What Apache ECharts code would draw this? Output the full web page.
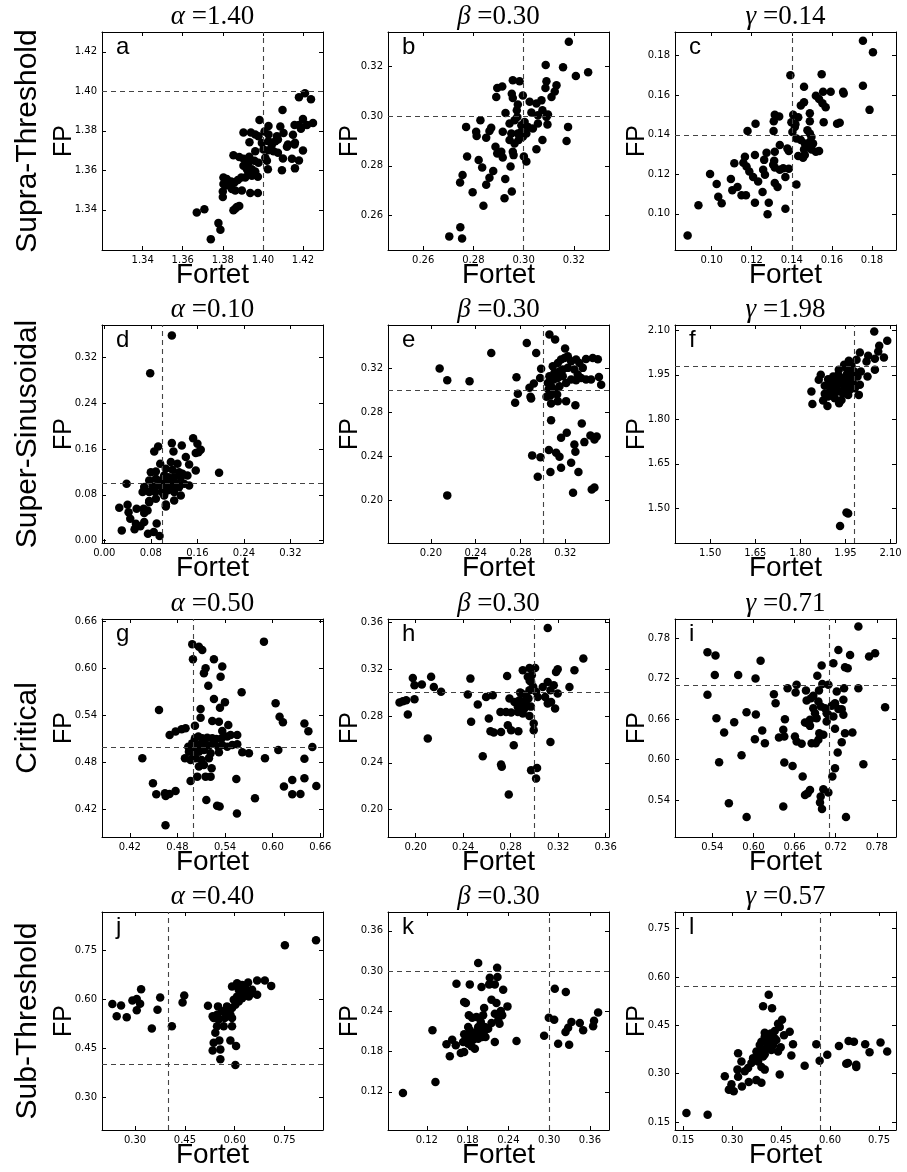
<!DOCTYPE html>
<html>
<head>
<meta charset="utf-8">
<script src="https://cdn.jsdelivr.net/npm/echarts@6/dist/echarts.min.js"></script>
<style>
html, body { margin: 0; padding: 0; background: #fff; }
#chart { width: 907px; height: 1172px; }
</style>
</head>
<body>
<div id="chart"></div>
<script>
// [Fortet, FP] pairs, one list per panel
const panelA = [[1.4098,1.3905],[1.4158,1.3830],[1.3983,1.3855],[1.4028,1.3825],[1.4087,1.3822],[1.3903,1.3792],[1.3940,1.3792],[1.3962,1.3781],[1.3978,1.3772],[1.4008,1.3797],[1.4028,1.3781],[1.4070,1.3772],[1.4103,1.3789],[1.3933,1.3742],[1.3995,1.3739],[1.4028,1.3747],[1.4045,1.3731],[1.4062,1.3747],[1.4075,1.3756],[1.4125,1.3731],[1.4158,1.3731],[1.3962,1.3697],[1.4003,1.3706],[1.4028,1.3702],[1.4053,1.3697],[1.4075,1.3689],[1.4145,1.3659],[1.3853,1.3676],[1.3882,1.3667],[1.3903,1.3659],[1.3932,1.3669],[1.3928,1.3639],[1.3958,1.3648],[1.3978,1.3639],[1.4012,1.3664],[1.4020,1.3648],[1.4025,1.3606],[1.4095,1.3601],[1.3903,1.3623],[1.3920,1.3606],[1.3945,1.3606],[1.3962,1.3594],[1.3975,1.3568],[1.3945,1.3573],[1.3928,1.3581],[1.3912,1.3564],[1.3892,1.3564],[1.3875,1.3551],[1.3858,1.3539],[1.3842,1.3543],[1.3820,1.3556],[1.3803,1.3564],[1.3803,1.3531],[1.3828,1.3526],[1.3845,1.3506],[1.3862,1.3498],[1.3895,1.3498],[1.3937,1.3486],[1.3975,1.3485],[1.3800,1.3493],[1.3800,1.3465],[1.3815,1.3523],[1.3853,1.3398],[1.3870,1.3415],[1.3882,1.3420],[1.3862,1.3406],[1.3670,1.3387],[1.3708,1.3403],[1.3778,1.3333],[1.3788,1.3300],[1.3740,1.3252],[1.418,1.397],[1.421,1.399],[1.424,1.396],[1.420,1.386],[1.418,1.383],[1.422,1.383],[1.425,1.384],[1.419,1.381],[1.415,1.378],[1.420,1.370],[1.412,1.372],[1.416,1.374],[1.410,1.366],[1.418,1.365],[1.416,1.361]]

const panelB = [[0.3180,0.3301],[0.3088,0.3207],[0.3157,0.3198],[0.3208,0.3162],[0.3257,0.3178],[0.2957,0.3145],[0.2984,0.3141],[0.2895,0.3114],[0.2915,0.3120],[0.3091,0.3141],[0.3131,0.3125],[0.3087,0.3114],[0.2891,0.3078],[0.2953,0.3091],[0.2957,0.3074],[0.2997,0.3084],[0.3124,0.3100],[0.3111,0.3078],[0.3071,0.3064],[0.3051,0.3051],[0.3024,0.3058],[0.2977,0.3047],[0.2973,0.3024],[0.3075,0.3024],[0.3097,0.3007],[0.3091,0.2997],[0.3057,0.3004],[0.3031,0.3015],[0.2928,0.3013],[0.2828,0.2984],[0.2771,0.2957],[0.2871,0.2953],[0.2864,0.2940],[0.2811,0.2937],[0.2813,0.2920],[0.2851,0.2913],[0.2917,0.2937],[0.2944,0.2971],[0.2964,0.2984],[0.2975,0.2997],[0.2991,0.2964],[0.3004,0.2977],[0.3017,0.2957],[0.3037,0.2950],[0.3057,0.2971],[0.3095,0.2967],[0.3177,0.2957],[0.2951,0.2930],[0.2944,0.2904],[0.2964,0.2890],[0.2980,0.2904],[0.2997,0.2917],[0.3011,0.2930],[0.2991,0.2937],[0.2977,0.2930],[0.3075,0.2904],[0.3171,0.2900],[0.3051,0.2867],[0.2888,0.2877],[0.2895,0.2850],[0.2911,0.2857],[0.2917,0.2833],[0.2957,0.2857],[0.2960,0.2843],[0.3001,0.2837],[0.3011,0.2817],[0.2775,0.2837],[0.2821,0.2823],[0.2835,0.2793],[0.2879,0.2779],[0.2864,0.2752],[0.2757,0.2763],[0.2747,0.2732],[0.2948,0.2797],[0.2927,0.2747],[0.2851,0.2723],[0.2797,0.2693],[0.2953,0.2696],[0.2924,0.2669],[0.2840,0.2639],[0.2748,0.2552],[0.2704,0.2515],[0.2755,0.2506]]

const panelC = [[0.1755,0.1876],[0.1805,0.1818],[0.1393,0.1701],[0.1549,0.1706],[0.1461,0.1643],[0.1755,0.1648],[0.1594,0.1618],[0.1556,0.1618],[0.1656,0.1618],[0.1659,0.1609],[0.1520,0.1598],[0.1536,0.1581],[0.1553,0.1559],[0.1569,0.1539],[0.1461,0.1564],[0.1445,0.1548],[0.1490,0.1509],[0.1788,0.1526],[0.1315,0.1501],[0.1337,0.1493],[0.1310,0.1469],[0.1407,0.1501],[0.1432,0.1489],[0.1398,0.1463],[0.1418,0.1453],[0.1490,0.1469],[0.1559,0.1464],[0.1626,0.1456],[0.1639,0.1461],[0.1219,0.1456],[0.1179,0.1419],[0.1309,0.1419],[0.1415,0.1439],[0.1403,0.1414],[0.1478,0.1423],[0.1490,0.1406],[0.1498,0.1389],[0.1423,0.1381],[0.1445,0.1373],[0.1465,0.1356],[0.1490,0.1364],[0.1506,0.1356],[0.1481,0.1339],[0.1461,0.1326],[0.1498,0.1326],[0.1520,0.1314],[0.1536,0.1318],[0.1465,0.1298],[0.1432,0.1293],[0.1456,0.1284],[0.1378,0.1331],[0.1385,0.1318],[0.1340,0.1348],[0.1315,0.1314],[0.1274,0.1309],[0.1216,0.1298],[0.1166,0.1289],[0.1262,0.1273],[0.1312,0.1268],[0.1307,0.1248],[0.1315,0.1234],[0.1340,0.1223],[0.1357,0.1231],[0.1385,0.1228],[0.1158,0.1259],[0.1113,0.1256],[0.1174,0.1239],[0.1188,0.1214],[0.1207,0.1186],[0.1257,0.1223],[0.1266,0.1198],[0.1232,0.1164],[0.1096,0.1176],[0.1129,0.1136],[0.1103,0.1119],[0.1149,0.1094],[0.1171,0.1094],[0.1254,0.1111],[0.1315,0.1156],[0.1329,0.1136],[0.1368,0.1186],[0.1423,0.1148],[0.0992,0.1201],[0.1025,0.1151],[0.1033,0.1086],[0.1050,0.1053],[0.0934,0.1043],[0.1216,0.1056],[0.1285,0.1056],[0.1279,0.0998],[0.1368,0.1026],[0.0880,0.0890]]

const panelD = [[0.1161,0.3578],[0.0789,0.2921],[0.1527,0.1788],[0.1601,0.1689],[0.1161,0.1701],[0.1332,0.1660],[0.0926,0.1643],[0.0858,0.1556],[0.1658,0.1585],[0.1618,0.1544],[0.1572,0.1527],[0.1189,0.1556],[0.1401,0.1457],[0.0961,0.1341],[0.1144,0.1370],[0.1258,0.1341],[0.1458,0.1329],[0.1572,0.1224],[0.1973,0.1184],[0.0800,0.1195],[0.0886,0.1207],[0.1058,0.1253],[0.1172,0.1236],[0.1286,0.1195],[0.1344,0.1166],[0.1429,0.1137],[0.1029,0.1137],[0.1103,0.1108],[0.1201,0.1108],[0.1315,0.1108],[0.0772,0.1050],[0.0886,0.1079],[0.0972,0.1050],[0.1086,0.1021],[0.1184,0.1021],[0.1258,0.0992],[0.1372,0.0992],[0.1458,0.0963],[0.0686,0.0934],[0.0829,0.0945],[0.0943,0.0963],[0.1058,0.0934],[0.1172,0.0934],[0.1286,0.0934],[0.0658,0.0847],[0.0772,0.0847],[0.0875,0.0847],[0.0989,0.0847],[0.1086,0.0876],[0.1201,0.0847],[0.1315,0.0789],[0.0383,0.0992],[0.0772,0.0690],[0.0886,0.0730],[0.1029,0.0789],[0.1201,0.0701],[0.1058,0.0632],[0.0772,0.0672],[0.0675,0.0556],[0.0743,0.0527],[0.0686,0.0481],[0.0555,0.0556],[0.0257,0.0574],[0.0400,0.0626],[0.0417,0.0498],[0.0446,0.0382],[0.0543,0.0295],[0.0686,0.0324],[0.1058,0.0597],[0.0300,0.0180],[0.0520,0.0200],[0.0750,0.0120],[0.0620,0.0250],[0.0850,0.0150],[0.0900,0.0300],[0.0950,0.0080]]

const panelE = [[0.3058,0.3503],[0.3109,0.3458],[0.2856,0.3428],[0.3198,0.3377],[0.2539,0.3337],[0.2940,0.3337],[0.2078,0.3196],[0.2146,0.3090],[0.2345,0.3081],[0.2764,0.3117],[0.2984,0.3193],[0.2975,0.3111],[0.2919,0.3060],[0.2880,0.3021],[0.2776,0.2967],[0.2752,0.2886],[0.2889,0.2940],[0.2895,0.2925],[0.3032,0.2940],[0.3073,0.2880],[0.3133,0.2901],[0.3207,0.2901],[0.3290,0.2864],[0.3073,0.2729],[0.3347,0.2699],[0.3162,0.2569],[0.3213,0.2614],[0.3424,0.2590],[0.3460,0.2554],[0.3370,0.2530],[0.3281,0.2509],[0.3290,0.2443],[0.3053,0.2458],[0.3118,0.2434],[0.3148,0.2398],[0.2904,0.2410],[0.2978,0.2392],[0.3252,0.2343],[0.3162,0.2298],[0.3067,0.2259],[0.3317,0.2259],[0.2954,0.2217],[0.3269,0.2072],[0.3436,0.2102],[0.2146,0.2048],[0.3088,0.3217],[0.3133,0.3247],[0.3162,0.3277],[0.3192,0.3292],[0.3222,0.3307],[0.3252,0.3262],[0.3296,0.3277],[0.3326,0.3247],[0.3356,0.3202],[0.3385,0.3283],[0.3445,0.3292],[0.3103,0.3157],[0.3148,0.3172],[0.3177,0.3187],[0.3222,0.3202],[0.3281,0.3187],[0.3311,0.3142],[0.3341,0.3111],[0.3385,0.3096],[0.3430,0.3096],[0.3058,0.3127],[0.3097,0.3096],[0.3133,0.3111],[0.3177,0.3127],[0.3207,0.3066],[0.3252,0.3096],[0.3296,0.3090],[0.3044,0.3066],[0.3073,0.3036],[0.3103,0.3006],[0.3127,0.2961],[0.3088,0.2976],[0.3050,0.3006],[0.3148,0.3036],[0.3067,0.2952],[0.3490,0.3280],[0.3500,0.3120],[0.3480,0.2580],[0.3460,0.2120],[0.3520,0.3050]]

const panelF = [[2.0456,2.0964],[2.0889,2.0649],[2.0622,2.0480],[1.9978,2.0254],[2.0589,2.0288],[2.0256,2.0142],[2.0778,2.0086],[2.0478,2.0041],[2.0200,1.9950],[1.9867,2.0007],[1.9611,1.9973],[1.9456,1.9838],[1.9700,1.9804],[2.0478,1.9669],[2.0233,1.9444],[2.0011,1.9613],[1.9789,1.9613],[1.9533,1.9725],[1.9278,1.9669],[1.9256,1.9500],[1.9089,1.9444],[1.8678,1.9500],[1.8611,1.9331],[1.8922,1.9354],[1.8811,1.9128],[1.9033,1.9106],[1.9200,1.9241],[1.9367,1.9196],[1.9533,1.9309],[1.9700,1.9387],[1.9900,1.9444],[1.9978,1.9162],[1.9811,1.9050],[1.9644,1.8993],[1.9478,1.9050],[1.9311,1.8937],[1.9144,1.8903],[1.8978,1.8937],[1.8811,1.8858],[1.8367,1.8937],[1.8922,1.8768],[1.9144,1.8712],[1.9367,1.8655],[1.9589,1.8824],[1.9944,1.8824],[1.8756,1.8633],[1.8900,1.8453],[1.9289,1.8543],[1.8400,1.8520],[1.9533,1.4860],[1.9589,1.4827],[1.9422,1.9387],[1.9256,1.9331],[1.9589,1.9162],[1.9033,1.9275],[1.9200,1.9050],[1.9422,1.8881],[1.9756,1.9218],[1.9533,1.9500],[1.9700,1.9579],[1.9320,1.4400]]

const panelG = [[0.4987,0.6311],[0.5071,0.6281],[0.5113,0.6238],[0.4996,0.6119],[0.5260,0.6119],[0.5365,0.6026],[0.5155,0.6004],[0.5134,0.5940],[0.5344,0.5898],[0.5189,0.5783],[0.5609,0.5698],[0.5260,0.5613],[0.5399,0.5570],[0.5336,0.5502],[0.5092,0.5485],[0.4568,0.5472],[0.5092,0.5374],[0.5239,0.5332],[0.5323,0.5323],[0.5441,0.5281],[0.6037,0.5557],[0.6087,0.5387],[0.6129,0.5315],[0.5890,0.6345],[0.5021,0.5272],[0.4903,0.5238],[0.4853,0.5226],[0.4777,0.5196],[0.4702,0.5153],[0.5021,0.5111],[0.5063,0.5132],[0.5113,0.5111],[0.5176,0.5119],[0.5239,0.5111],[0.5290,0.5102],[0.5357,0.5111],[0.5428,0.5132],[0.5470,0.5153],[0.5554,0.5153],[0.5365,0.5204],[0.4937,0.5004],[0.4987,0.5047],[0.5029,0.4991],[0.5071,0.5026],[0.5134,0.5047],[0.5197,0.5017],[0.5260,0.5047],[0.5315,0.5004],[0.5365,0.5026],[0.5428,0.5004],[0.5491,0.5026],[0.5554,0.5034],[0.4945,0.4940],[0.5008,0.4906],[0.5071,0.4940],[0.5134,0.4962],[0.5218,0.4919],[0.5323,0.4932],[0.4895,0.4855],[0.4966,0.4834],[0.5029,0.4855],[0.5105,0.4834],[0.5197,0.4855],[0.5617,0.4932],[0.5701,0.4919],[0.6071,0.4962],[0.5903,0.4855],[0.4358,0.4855],[0.5071,0.4749],[0.5134,0.4770],[0.5231,0.4728],[0.5218,0.4621],[0.5050,0.4621],[0.5155,0.4621],[0.4966,0.4566],[0.5542,0.4591],[0.4492,0.4536],[0.4534,0.4396],[0.4652,0.4374],[0.4643,0.4409],[0.4777,0.4438],[0.5164,0.4323],[0.5332,0.4238],[0.5777,0.4345],[0.6142,0.4494],[0.6247,0.4579],[0.6247,0.4396],[0.6400,0.5300],[0.6450,0.5200],[0.6500,0.5000],[0.6400,0.4850],[0.6550,0.4500],[0.6400,0.4600],[0.6350,0.4400],[0.4650,0.4000],[0.5300,0.4250],[0.5550,0.4150],[0.4700,0.4400]]

const panelH = [[0.3112,0.3552],[0.3412,0.3290],[0.3337,0.3191],[0.3196,0.3199],[0.3182,0.3176],[0.2958,0.3210],[0.2902,0.3191],[0.3006,0.3210],[0.2770,0.3142],[0.2461,0.3119],[0.2130,0.3134],[0.1976,0.3125],[0.2052,0.3068],[0.2153,0.3048],[0.2214,0.3006],[0.1990,0.3063],[0.3295,0.3048],[0.3163,0.3063],[0.3112,0.3091],[0.3070,0.3048],[0.3135,0.3020],[0.3196,0.2991],[0.3090,0.2963],[0.3140,0.2920],[0.3174,0.2863],[0.3112,0.2906],[0.2439,0.2983],[0.2593,0.2963],[0.2649,0.2977],[0.2523,0.2898],[0.1864,0.2915],[0.1892,0.2926],[0.1920,0.2935],[0.1990,0.2943],[0.1934,0.2812],[0.2102,0.2608],[0.2467,0.2750],[0.2616,0.2778],[0.2714,0.2835],[0.2761,0.2835],[0.2804,0.2829],[0.2790,0.2949],[0.2832,0.2920],[0.2860,0.2878],[0.2874,0.2935],[0.2893,0.2991],[0.2930,0.2977],[0.2958,0.3020],[0.2972,0.3091],[0.2944,0.3134],[0.2978,0.3148],[0.3014,0.3006],[0.3028,0.2963],[0.2916,0.2863],[0.2958,0.2801],[0.2902,0.2821],[0.2860,0.2835],[0.2776,0.2721],[0.2804,0.2679],[0.2630,0.2670],[0.2658,0.2659],[0.2719,0.2664],[0.2865,0.2670],[0.2826,0.2551],[0.2994,0.2735],[0.2994,0.2679],[0.3135,0.2579],[0.2565,0.2457],[0.2719,0.2386],[0.2725,0.2366],[0.2972,0.2337],[0.3022,0.2357],[0.3014,0.2266],[0.2784,0.2130],[0.2950,0.2950],[0.2930,0.2900],[0.2970,0.2880],[0.2900,0.2920],[0.2990,0.3050],[0.2960,0.3100],[0.2880,0.3000]]

const panelI = [[0.7531,0.7968],[0.5329,0.7589],[0.5446,0.7539],[0.6104,0.7461],[0.7239,0.7623],[0.7410,0.7549],[0.7687,0.7525],[0.7775,0.7574],[0.6995,0.7392],[0.7166,0.7426],[0.7336,0.7367],[0.7375,0.7352],[0.5436,0.7253],[0.5777,0.7253],[0.6030,0.7199],[0.6932,0.7239],[0.7005,0.7120],[0.7093,0.7106],[0.6498,0.7056],[0.6630,0.7106],[0.6615,0.6992],[0.6766,0.7022],[0.6956,0.7022],[0.7215,0.7007],[0.7322,0.7056],[0.7531,0.7056],[0.5329,0.6958],[0.6298,0.6967],[0.6323,0.6834],[0.6776,0.6874],[0.6839,0.6908],[0.6873,0.6943],[0.6947,0.6859],[0.6986,0.6785],[0.6873,0.6760],[0.7044,0.6760],[0.7142,0.6795],[0.7190,0.6834],[0.7312,0.6884],[0.7288,0.6746],[0.7239,0.6750],[0.7921,0.6775],[0.5460,0.6612],[0.5899,0.6701],[0.6035,0.6667],[0.6459,0.6598],[0.6898,0.6686],[0.6922,0.6612],[0.7068,0.6686],[0.7093,0.6662],[0.6825,0.6588],[0.6791,0.6538],[0.6825,0.6499],[0.6752,0.6548],[0.7068,0.6563],[0.7166,0.6637],[0.7312,0.6662],[0.5719,0.6553],[0.5572,0.6400],[0.6128,0.6430],[0.6021,0.6302],[0.6167,0.6243],[0.6435,0.6440],[0.6372,0.6326],[0.6450,0.6341],[0.6605,0.6341],[0.6630,0.6267],[0.6703,0.6233],[0.6849,0.6243],[0.6908,0.6243],[0.6947,0.6292],[0.7020,0.6366],[0.6961,0.6391],[0.7190,0.6455],[0.7336,0.6391],[0.7444,0.6400],[0.7288,0.6257],[0.7229,0.6105],[0.5826,0.6065],[0.5499,0.5960],[0.6450,0.5957],[0.6571,0.5907],[0.7190,0.5873],[0.7604,0.5932],[0.6718,0.5749],[0.7151,0.5749],[0.6825,0.5552],[0.6752,0.5478],[0.6791,0.5503],[0.7020,0.5562],[0.7093,0.5513],[0.6981,0.5454],[0.6971,0.5365],[0.5641,0.5355],[0.6435,0.5306],[0.5900,0.5150],[0.7350,0.5150],[0.7000,0.5270]]

const panelJ = [[0.7512,0.7646],[0.2315,0.5848],[0.2577,0.5808],[0.2446,0.5475],[0.2748,0.5444],[0.2919,0.5960],[0.3050,0.6000],[0.3181,0.6303],[0.3151,0.5859],[0.3050,0.5657],[0.3504,0.5101],[0.3675,0.5677],[0.3755,0.6051],[0.4108,0.5172],[0.4430,0.5899],[0.4480,0.6111],[0.5195,0.5798],[0.5336,0.5475],[0.5497,0.5778],[0.5467,0.5172],[0.5417,0.4970],[0.5367,0.4667],[0.5336,0.4434],[0.5538,0.4737],[0.5568,0.4465],[0.5870,0.4737],[0.6041,0.4566],[0.5568,0.4162],[0.6021,0.3990],[0.5669,0.5172],[0.5920,0.5172],[0.5920,0.5424],[0.5769,0.5576],[0.5920,0.5727],[0.6021,0.5828],[0.6122,0.5929],[0.6223,0.6030],[0.6323,0.6131],[0.6424,0.6232],[0.6525,0.6283],[0.5920,0.6384],[0.6072,0.6485],[0.6223,0.6434],[0.6404,0.6505],[0.6676,0.6566],[0.6907,0.6566],[0.7099,0.6404],[0.6676,0.6131],[0.5769,0.5475],[0.5820,0.5626],[0.5618,0.5626],[0.5769,0.5778],[0.5971,0.5980],[0.6072,0.6081],[0.6223,0.6182],[0.6122,0.6283],[0.6323,0.6333],[0.6424,0.6081],[0.6525,0.6182],[0.5870,0.5525],[0.5699,0.5424],[0.5518,0.5374],[0.5367,0.5424],[0.5467,0.5525],[0.8450,0.7800]]

const panelK = [[0.1956,0.3119],[0.2235,0.3050],[0.2127,0.2901],[0.2240,0.2911],[0.1637,0.2811],[0.1833,0.2801],[0.2005,0.2762],[0.2118,0.2801],[0.2201,0.2801],[0.2324,0.2722],[0.3083,0.2737],[0.3245,0.2687],[0.1750,0.2538],[0.1775,0.2523],[0.2152,0.2573],[0.2225,0.2523],[0.2044,0.2449],[0.2387,0.2473],[0.1819,0.2339],[0.1868,0.2305],[0.1931,0.2314],[0.2029,0.2339],[0.2201,0.2364],[0.2289,0.2404],[0.2309,0.2339],[0.2250,0.2265],[0.2270,0.2215],[0.2152,0.2225],[0.1995,0.2240],[0.2054,0.2165],[0.2103,0.2141],[0.1809,0.2165],[0.1833,0.2116],[0.1868,0.2066],[0.1931,0.2091],[0.1995,0.2066],[0.1750,0.2056],[0.1799,0.2006],[0.1882,0.1977],[0.1956,0.1992],[0.2015,0.2016],[0.2064,0.2016],[0.1735,0.1942],[0.1809,0.1917],[0.1858,0.1877],[0.1907,0.1843],[0.2054,0.2116],[0.1956,0.2165],[0.2015,0.2141],[0.1284,0.2116],[0.1574,0.1977],[0.1627,0.1892],[0.1490,0.1907],[0.1539,0.1728],[0.1701,0.1778],[0.1750,0.1793],[0.2201,0.1942],[0.2520,0.1957],[0.2926,0.2036],[0.2995,0.2305],[0.3074,0.2275],[0.3328,0.2240],[0.3451,0.2225],[0.3279,0.2155],[0.3240,0.2091],[0.3500,0.2116],[0.3647,0.2175],[0.3132,0.1917],[0.3294,0.1902],[0.1328,0.1346],[0.0850,0.1180],[0.3720,0.2380],[0.3660,0.2260]]

const panelL = [[0.4121,0.5450],[0.3948,0.5093],[0.4223,0.5032],[0.4529,0.4675],[0.4407,0.4552],[0.4458,0.4451],[0.4305,0.4328],[0.4182,0.4247],[0.3999,0.4267],[0.4764,0.4298],[0.4590,0.4196],[0.4356,0.4043],[0.4152,0.4094],[0.3999,0.4145],[0.3897,0.3992],[0.4081,0.3941],[0.4254,0.3890],[0.4488,0.3819],[0.4407,0.3686],[0.4203,0.3737],[0.4050,0.3788],[0.3897,0.3737],[0.3846,0.3890],[0.4865,0.3910],[0.4814,0.3564],[0.3948,0.3533],[0.3744,0.3686],[0.3642,0.3482],[0.3795,0.3380],[0.3897,0.3207],[0.3999,0.3125],[0.3591,0.3329],[0.3489,0.3176],[0.3387,0.3074],[0.3183,0.3635],[0.3285,0.3380],[0.3163,0.3125],[0.2776,0.2922],[0.3183,0.2901],[0.3510,0.2738],[0.2980,0.2667],[0.2929,0.2514],[0.3744,0.2799],[0.3897,0.2718],[0.4458,0.2972],[0.5222,0.3248],[0.5579,0.3910],[0.5681,0.3401],[0.5915,0.3584],[0.6272,0.3859],[0.6568,0.4012],[0.6731,0.3992],[0.7077,0.3910],[0.7210,0.3666],[0.7546,0.3971],[0.7750,0.3686],[0.6496,0.3309],[0.6802,0.3207],[0.6802,0.3278],[0.6547,0.3329],[0.1600,0.1780],[0.2250,0.1720],[0.2900,0.2500],[0.3050,0.2450],[0.3300,0.2600],[0.4100,0.4000],[0.4200,0.3900],[0.4300,0.4100],[0.4000,0.3600],[0.3800,0.3500]]

const panels = [panelA, panelB, panelC, panelD, panelE, panelF, panelG, panelH, panelI, panelJ, panelK, panelL]
const panelLetters = ['a', 'b', 'c', 'd', 'e', 'f', 'g', 'h', 'i', 'j', 'k', 'l']
const paramSymbols = ['α', 'β', 'γ']
const paramValues = ['1.40', '0.30', '0.14', '0.10', '0.30', '1.98', '0.50', '0.30', '0.71', '0.40', '0.30', '0.57']
const refValues = [1.40, 0.30, 0.1414, 0.10, 0.30, 1.975, 0.50, 0.30, 0.7071, 0.40, 0.30, 0.57]
const rowNames = ['Supra-Threshold', 'Super-Sinusoidal', 'Critical', 'Sub-Threshold']
const axisLimits = [[1.3197, 1.430], [0.246, 0.334], [0.0817, 0.192], [-0.004, 0.376], [0.1617, 0.359], [1.383, 2.118],
  [0.385, 0.6634], [0.1767, 0.3628], [0.4855, 0.808], [0.2003, 0.866], [0.063, 0.388], [0.125, 0.802]]
const tickValues = [
  [1.34, 1.36, 1.38, 1.40, 1.42], [0.26, 0.28, 0.30, 0.32], [0.10, 0.12, 0.14, 0.16, 0.18],
  [0.00, 0.08, 0.16, 0.24, 0.32], [0.20, 0.24, 0.28, 0.32], [1.50, 1.65, 1.80, 1.95, 2.10],
  [0.42, 0.48, 0.54, 0.60, 0.66], [0.20, 0.24, 0.28, 0.32, 0.36], [0.54, 0.60, 0.66, 0.72, 0.78],
  [0.30, 0.45, 0.60, 0.75], [0.12, 0.18, 0.24, 0.30, 0.36], [0.15, 0.30, 0.45, 0.60, 0.75]]

// layout of the 4x3 grid
const colLeft = [102, 388, 675]
const rowTop = [32, 325, 619, 912]
const W = 221
const H = 218

const chart = echarts.init(document.getElementById('chart'))

function makeAxis (gridIndex, position, lim, ticks, showLabel) {
  return {
    type: 'value',
    gridIndex: gridIndex,
    position: position,
    min: lim[0],
    max: lim[1],
    axisLine: { show: true, onZero: false, lineStyle: { color: '#000', width: 1 } },
    axisTick: { show: true, inside: true, length: 4, customValues: ticks, lineStyle: { color: '#000', width: 1 } },
    axisLabel: {
      show: showLabel,
      customValues: ticks,
      formatter: v => v.toFixed(2),
      fontSize: 10,
      fontFamily: 'DejaVu Sans',
      color: '#000',
      margin: 5
    },
    splitLine: { show: false }
  }
}

const grids = []
const xAxes = []
const yAxes = []
const series = []
const graphics = []

panels.forEach((pts, i) => {
  const r = Math.floor(i / 3)
  const c = i % 3
  const left = colLeft[c]
  const top = rowTop[r]
  grids.push({ left: left, top: top, width: W, height: H })
  xAxes.push(makeAxis(i, 'bottom', axisLimits[i], tickValues[i], true))
  xAxes.push(makeAxis(i, 'top', axisLimits[i], tickValues[i], false))
  yAxes.push(makeAxis(i, 'left', axisLimits[i], tickValues[i], true))
  yAxes.push(makeAxis(i, 'right', axisLimits[i], tickValues[i], false))
  series.push({
    type: 'scatter',
    xAxisIndex: 2 * i,
    yAxisIndex: 2 * i,
    data: pts,
    symbolSize: 8.5,
    itemStyle: { color: '#000', opacity: 1 },
    markLine: {
      silent: true,
      symbol: ['none', 'none'],
      label: { show: false },
      lineStyle: { color: '#444', type: [5, 4], width: 1.1 },
      data: [{ xAxis: refValues[i] }, { yAxis: refValues[i] }]
    }
  })
  // title above the panel
  graphics.push({
    type: 'text',
    style: {
      text: '{g|' + paramSymbols[c] + '}{n| =' + paramValues[i] + '}',
      x: left + W / 2,
      y: top - 15,
      align: 'center',
      verticalAlign: 'middle',
      rich: {
        g: { fontSize: 27, fontFamily: 'Liberation Serif', fontStyle: 'italic', fill: '#000' },
        n: { fontSize: 27, fontFamily: 'Liberation Serif', fill: '#000' }
      }
    }
  })
  // panel letter
  graphics.push({
    type: 'text',
    style: { text: panelLetters[i], x: left + 14, y: top + 15, verticalAlign: 'middle', font: '24px "Liberation Sans"', fill: '#000' }
  })
  // FP label
  graphics.push({
    type: 'text',
    x: left - 38,
    y: top + H / 2,
    rotation: Math.PI / 2,
    style: { text: 'FP', align: 'center', verticalAlign: 'middle', font: '25px "Liberation Sans"', fill: '#000' }
  })
  // Fortet label
  graphics.push({
    type: 'text',
    style: { text: 'Fortet', x: left + W / 2, y: top + H + 25, align: 'center', verticalAlign: 'middle', font: '28px "Liberation Sans"', fill: '#000' }
  })
})

rowNames.forEach((name, r) => {
  graphics.push({
    type: 'text',
    x: 28,
    y: rowTop[r] + H / 2,
    rotation: Math.PI / 2,
    style: { text: name, align: 'center', verticalAlign: 'middle', font: '30px "Liberation Sans"', fill: '#000' }
  })
})

chart.setOption({
  animation: false,
  backgroundColor: '#fff',
  grid: grids,
  xAxis: xAxes,
  yAxis: yAxes,
  series: series,
  graphic: graphics
})
</script>
</body>
</html>
